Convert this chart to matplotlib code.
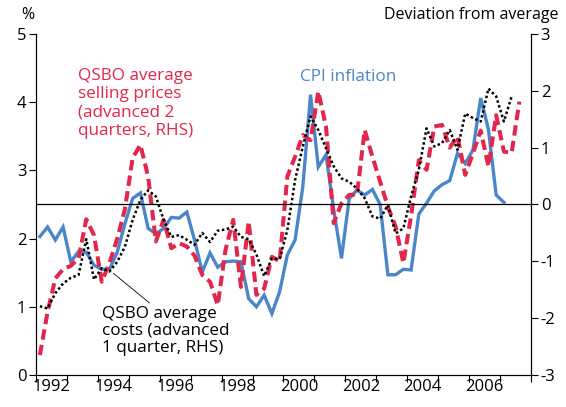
import numpy as np
import matplotlib
matplotlib.use("Agg")
import matplotlib.pyplot as plt

plt.rcParams['font.family'] = ['Open Sans', 'DejaVu Sans']

# quarterly data, starting 1992 Q1
cpi = [2.03, 2.17, 1.98, 2.17, 1.66, 1.81, 1.80, 1.61, 1.55, 1.55,
       1.80, 2.22, 2.59, 2.67, 2.15, 2.07, 2.15, 2.31, 2.30, 2.39,
       1.98, 1.51, 1.79, 1.58, 1.66, 1.67, 1.66, 1.12, 1.00, 1.17,
       0.90, 1.22, 1.76, 1.98, 2.76, 4.11, 3.05, 3.23, 2.42, 1.71,
       2.59, 2.71, 2.64, 2.72, 2.50, 1.47, 1.47, 1.55, 1.54, 2.36,
       2.52, 2.70, 2.79, 2.85, 3.25, 3.10, 3.30, 4.06, 3.60, 2.64,
       2.53]

# QSBO selling prices, advanced 2 quarters (deviation from average)
selling = [-2.65, -1.89, -1.30, -1.14, -1.08, -0.95, -0.26, -0.54, -1.36, -1.03,
           -0.60, -0.08, 0.82, 1.05, 0.49, -0.65, -0.27, -0.77, -0.68, -0.74,
           -0.90, -1.24, -1.36, -1.77, -0.80, -0.27, -1.45, -0.30, -1.59, -1.48,
           -0.92, -1.00, 0.49, 0.84, 1.22, 1.13, 1.99, 1.37, -0.33, 0.02,
           0.17, 0.17, 1.31, 0.84, 0.40, -0.04, -0.39, -1.03, -0.20, 0.78,
           0.61, 1.37, 1.40, 1.00, 1.20, 0.52, 0.90, 1.30, 0.67, 1.57,
           0.93, 0.91, 1.81]

# QSBO costs, advanced 1 quarter (deviation from average)
costs = [-1.79, -1.83, -1.56, -1.39, -1.29, -1.24, -0.61, -1.32, -1.12, -1.18,
         -1.01, -0.74, -0.27, 0.08, 0.25, 0.14, -0.27, -0.57, -0.54, -0.62,
         -0.71, -0.50, -0.66, -0.46, -0.44, -0.39, -0.57, -0.61, -0.88, -1.26,
         -0.95, -0.96, -0.45, 0.43, 1.02, 1.55, 1.31, 0.99, 0.67, 0.46,
         0.40, 0.28, 0.11, -0.21, -0.25, -0.01, -0.51, -0.42, 0.14, 0.61,
         1.34, 1.02, 1.08, 1.31, 0.96, 1.60, 1.52, 1.46, 2.04, 1.90,
         1.46, 1.90]

year_labels = ['1992', '1994', '1996', '1998', '2000', '2002', '2004', '2006']

start = 1992
blue = '#4a86c8'
red = '#e3264b'

def qx(vals):
    q = np.arange(len(vals))
    return start + (q + 0.5) / 4

fig = plt.figure(figsize=(5.66, 4.07), dpi=100)
ax = fig.add_axes([0.0636, 0.0786, 0.8745, 0.838])
ax2 = ax.twinx()

ax.plot(qx(cpi), cpi, color=blue, lw=2.4, solid_joinstyle='miter')
ax2.plot(qx(selling), selling, color=red, lw=2.9, linestyle=(0, (2.6, 1.3)))
ax2.plot(qx(costs), costs, color='black', lw=1.8, linestyle=(0, (1, 1)))
ax2.axhline(0, color='black', lw=0.9)

ax.set_xlim(1992, 2008)
ax.set_ylim(0, 5)
ax2.set_ylim(-3, 3)

ax.set_xticks(np.arange(1992, 2009))
ax.set_xticklabels([])
ax.set_xticks([int(y) + 0.5 for y in year_labels], minor=True)
ax.set_xticklabels(year_labels, minor=True)
ax.tick_params(axis='x', which='minor', length=0, pad=3)
ax.tick_params(axis='x', which='major', length=5, width=0.8, direction='out')

ax.set_yticks(range(0, 6))
ax2.set_yticks(range(-3, 4))
ax2.set_yticklabels([str(v) for v in range(-3, 4)])
ax.tick_params(axis='y', length=5, width=0.8, direction='out', pad=2)
ax2.tick_params(axis='y', length=5, width=0.8, direction='out', pad=2)

for a in (ax, ax2):
    a.spines['top'].set_visible(False)
    for s in a.spines.values():
        s.set_linewidth(0.8)
    a.tick_params(which='both', labelsize=12)

fig.text(0.037, 0.962, '%', fontsize=11.5, ha='left', va='center')
fig.text(0.987, 0.962, 'Deviation from average', fontsize=11.5, ha='right', va='center')

ax.text(0.085, 0.899, 'QSBO average\nselling prices\n(advanced 2\nquarters, RHS)',
        transform=ax.transAxes, color=red, fontsize=12.3, ha='left', va='top',
        linespacing=1.17)
ax.text(0.533, 0.874, 'CPI inflation', transform=ax.transAxes, color=blue,
        fontsize=12.3, ha='left', va='center')
ax2.annotate('QSBO average\ncosts (advanced\n1 quarter, RHS)',
             xy=(1994.5, -1.21), xytext=(0.133, 0.203), textcoords='axes fraction',
             fontsize=12.3, ha='left', va='top', linespacing=1.1,
             arrowprops=dict(arrowstyle='-', color='black', lw=0.6,
                             shrinkA=0, shrinkB=0, relpos=(0.4, 1.0)))

fig.savefig('out.png', dpi=100)
